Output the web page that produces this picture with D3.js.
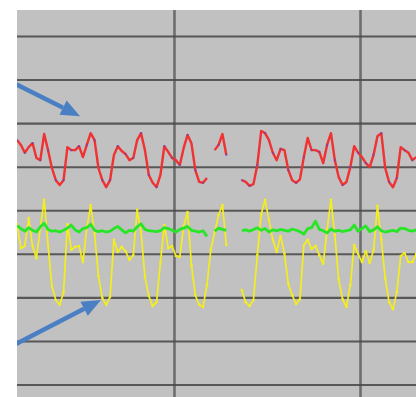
<!DOCTYPE html>
<html>
<head>
<meta charset="utf-8">
<script src="https://cdn.jsdelivr.net/npm/d3@7/dist/d3.min.js"></script>
<style>
  html, body { margin: 0; padding: 0; background: #ffffff; }
  svg { display: block; }
</style>
</head>
<body>
<div id="chart"></div>
<script>
// ---- data (time in days, samples every 2 hours starting at hour 15) ----
const startHour = 15;
const stepHours = 2;

const redValues = [
  56.1, 55.0, 53.2, 54.5, 55.4, 52.0, 51.5, 57.5, 53.8, 49.7,
  46.9, 45.8, 46.9, 54.5, 53.8, 53.8, 54.7, 52.2, 55.0, 57.7,
  56.1, 49.7, 46.9, 45.3, 46.9, 52.7, 54.7, 53.6, 52.9, 51.5,
  52.0, 56.1, 57.7, 53.8, 48.1, 46.3, 45.3, 48.1, 54.7, 53.4,
  52.0, 51.5, 50.4, 54.3, 57.3, 55.4, 49.2, 46.5, 46.3, 47.4,
  null, 53.8, 55.0, 57.5, 52.7, null, null, null, 46.9, 46.5,
  45.6, 46.0, 50.4, 58.2, 57.7, 56.1, 53.2, 51.5, 54.1, 53.8,
  49.2, 46.9, 46.3, 47.1, 52.2, 56.6, 53.8, 53.8, 53.4, 50.8,
  55.0, 57.7, 51.5, 47.6, 45.8, 46.5, 49.9, 54.7, 53.2, 52.2,
  50.8, 49.9, 52.7, 57.0, 57.7, 49.7, 46.5, 45.3, 47.4, 54.5,
  53.8, 53.2, 51.5, 52.2
];

const yellowValues = [
  36.8, 31.3, 31.8, 38.2, 31.8, 29.0, 35.9, 42.4, 32.0, 22.6,
  19.4, 18.3, 21.2, 36.8, 30.9, 31.6, 31.8, 28.1, 35.9, 41.2,
  34.6, 24.9, 19.9, 18.3, 20.1, 33.2, 30.4, 31.6, 30.6, 28.6,
  29.7, 40.1, 35.0, 24.7, 20.3, 18.0, 18.9, 28.1, 36.6, 31.3,
  31.8, 29.5, 29.3, 36.4, 39.6, 27.4, 20.5, 18.3, 17.8, 22.8,
  30.9, 35.0, 38.9, 41.2, 32.0, null, null, null, 21.7, 18.9,
  18.0, 19.4, 29.7, 39.1, 42.4, 37.8, 33.2, 30.4, 34.1, 30.0,
  23.1, 20.5, 18.5, 19.6, 32.0, 33.2, 31.1, 31.8, 29.7, 27.7,
  35.5, 42.4, 34.3, 24.0, 19.6, 17.8, 22.8, 32.0, 30.0, 28.1,
  30.6, 27.9, 30.9, 41.0, 33.2, 24.4, 18.9, 17.3, 21.2, 29.5,
  30.2, 28.1, 28.1, 30.0
];

const greenValues = [
  36.5, 35.8, 35.2, 36.0, 35.4, 35.0, 36.2, 37.0, 35.6, 35.2,
  35.3, 35.0, 35.4, 35.9, 36.6, 35.5, 35.0, 35.8, 36.0, 36.8,
  35.4, 35.1, 35.3, 35.0, 35.2, 35.8, 36.3, 35.5, 34.8, 35.4,
  35.2, 36.2, 36.9, 35.6, 35.3, 35.2, 35.1, 35.3, 36.0, 35.8,
  35.4, 35.0, 35.6, 35.9, 36.3, 35.4, 35.2, 35.0, 35.3, 34.0,
  null, 35.2, 35.9, 35.6, 35.4, null, null, null, 35.3, 35.5,
  35.2, 35.6, 36.0, 35.4, 35.8, 35.0, 35.5, 35.3, 35.6, 35.4,
  35.2, 35.7, 35.4, 35.1, 34.5, 35.8, 36.0, 37.5, 35.6, 35.3,
  34.8, 35.7, 35.2, 35.4, 35.1, 35.3, 35.5, 36.6, 35.2, 35.8,
  36.4, 35.1, 35.5, 36.2, 35.3, 35.0, 35.2, 35.4, 35.1, 35.9,
  35.8, 35.4, 35.2, 35.5
];

const xTickDays = [4, 8];
const yTickValues = [0, 10, 20, 30, 40, 50, 60, 70, 80];

// annotation arrows in data units [day, value]
const arrowFrom = [[0.55, 69.2], [0.55, 9.0]];
const arrowTo   = [[1.98, 61.6], [2.43, 19.4]];

// ---- layout ----
const W = 416, H = 397;
const plot = { left: 17, top: 10, right: 416, bottom: 397 };

const svg = d3.select("#chart").append("svg")
  .attr("width", W).attr("height", H);

const x = d3.scaleLinear().domain([0.624, 9.204]).range([plot.left, plot.right]);
const y = d3.scaleLinear().domain([-2.87, 85.97]).range([plot.bottom, plot.top]);

const defs = svg.append("defs");
defs.append("clipPath").attr("id", "clip")
  .append("rect")
  .attr("x", plot.left).attr("y", plot.top)
  .attr("width", plot.right - plot.left).attr("height", plot.bottom - plot.top);

const soft = defs.append("filter").attr("id", "soft")
  .attr("filterUnits", "userSpaceOnUse")
  .attr("x", -500).attr("y", -500).attr("width", 1500).attr("height", 1500);
soft.append("feGaussianBlur").attr("stdDeviation", 0.45);

const g = svg.append("g").attr("clip-path", "url(#clip)");

g.append("rect")
  .attr("x", plot.left).attr("y", plot.top)
  .attr("width", plot.right - plot.left).attr("height", plot.bottom - plot.top)
  .attr("fill", "#c1c1c1");

// grid via axes
const gridG = g.append("g").attr("filter", "url(#soft)");

const yGrid = d3.axisLeft(y).tickValues(yTickValues)
  .tickSize(-(plot.right - plot.left)).tickFormat("");
gridG.append("g").attr("transform", `translate(${plot.left},0)`)
  .call(yGrid)
  .call(s => s.select(".domain").remove())
  .call(s => s.selectAll("line").attr("stroke", "#454545").attr("stroke-width", 2.1)
    .attr("stroke-opacity", 0.85));

const xGrid = d3.axisBottom(x).tickValues(xTickDays)
  .tickSize(-(plot.bottom - plot.top)).tickFormat("");
gridG.append("g").attr("transform", `translate(0,${plot.bottom})`)
  .call(xGrid)
  .call(s => s.select(".domain").remove())
  .call(s => s.selectAll("line").attr("stroke", "#4a4a4a").attr("stroke-width", 2.6)
    .attr("stroke-opacity", 0.7));

// data
const dayOf = i => (startHour + stepHours * i) / 24;
const toPts = vals => vals.map((v, i) => ({ d: dayOf(i), v }));

const line = d3.line()
  .defined(p => p.v != null)
  .x(p => x(p.d)).y(p => y(p.v));

const yellow = toPts(yellowValues);
const green = toPts(greenValues);
const red = toPts(redValues);

const dataG = g.append("g").attr("filter", "url(#soft)");

dataG.append("path").datum(yellow)
  .attr("d", line).attr("fill", "none")
  .attr("stroke", "#f4ee1c").attr("stroke-width", 1.7)
  .attr("stroke-linejoin", "round");
dataG.append("g").selectAll("circle")
  .data(yellow.filter(p => p.v != null))
  .join("circle")
  .attr("cx", p => x(p.d)).attr("cy", p => y(p.v)).attr("r", 1.3)
  .attr("fill", "#f4ee1c");

dataG.append("path").datum(green)
  .attr("d", line).attr("fill", "none")
  .attr("stroke", "#26e626").attr("stroke-width", 2.8)
  .attr("stroke-linejoin", "round");

dataG.append("path").datum(red)
  .attr("d", line).attr("fill", "none")
  .attr("stroke", "#f03030").attr("stroke-width", 2.4)
  .attr("stroke-linejoin", "round");
dataG.append("g").selectAll("circle")
  .data(red.filter((p, i) => p.v != null && i % 2 === 0))
  .join("circle")
  .attr("cx", p => x(p.d)).attr("cy", p => y(p.v)).attr("r", 1.1)
  .attr("fill", "#5048d8").attr("fill-opacity", 0.6);

// annotation arrows
const arrowG = g.append("g").attr("filter", "url(#soft)");
arrowFrom.forEach((f, i) => {
  const t = arrowTo[i];
  const x1 = x(f[0]), y1 = y(f[1]), x2 = x(t[0]), y2 = y(t[1]);
  const ang = Math.atan2(y2 - y1, x2 - x1);
  const headLen = 19, headW = 8;
  const bx = x2 - headLen * Math.cos(ang), by = y2 - headLen * Math.sin(ang);
  arrowG.append("line")
    .attr("x1", x1).attr("y1", y1).attr("x2", bx).attr("y2", by)
    .attr("stroke", "#4b7fc4").attr("stroke-width", 4.5);
  const px = -Math.sin(ang), py = Math.cos(ang);
  arrowG.append("path")
    .attr("d", `M${x2},${y2} L${bx + px * headW},${by + py * headW} L${bx - px * headW},${by - py * headW} Z`)
    .attr("fill", "#4b7fc4");
});
</script>
</body>
</html>
